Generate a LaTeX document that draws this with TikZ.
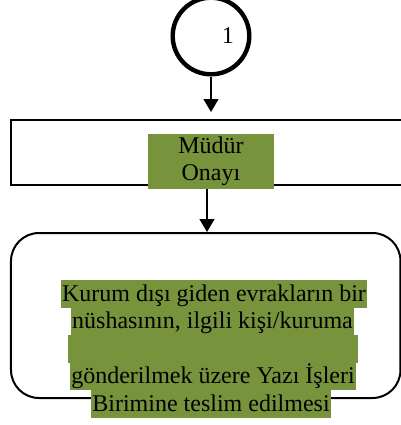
\documentclass[tikz,border=0pt]{standalone}
\usepackage{fontspec}
\setmainfont{Liberation Serif}
\usetikzlibrary{arrows.meta}

\definecolor{onaygreen}{RGB}{119,147,60}
\tikzset{
    hl/.style={fill=onaygreen, inner xsep=0.5pt, inner ysep=0pt, text height=10.5pt, text depth=3.25pt, anchor=north},
}

\begin{document}
\begin{tikzpicture}[x=0.5pt,y=-0.5pt,>={Triangle[width=7.5pt,length=6.5pt]},font=\fontsize{12}{13.75}\selectfont]
    \useasboundingbox (0,0) rectangle (401,425);

    \node[circle, draw, line width=2.2pt, minimum size=38.3pt, inner sep=0pt] (start) at (211,36) {};
    \node (num) at (228,36) {1};

    \node[draw, line width=1pt, minimum width=204.5pt, minimum height=32.5pt] (onaybox) at (215.5,152.5) {};
    \node[fill=onaygreen, text width=63pt, align=center, inner sep=0pt, minimum height=27.5pt] (onay) at (211,161.5) {Müdür\\Onayı};

    \node[draw, line width=1pt, rounded corners=14pt, minimum width=194.75pt, minimum height=82.5pt] (teslimbox) at (205.75,315.5) {};

    \node[hl] (line1) at (214,280) {Kurum dışı giden evrakların bir\ };
    \node[hl] (line2) at (212.5,307.5) {nüshasının, ilgili kişi/kuruma\ };
    \node[hl, minimum width=145pt] (line3) at (213,335) {};
    \node[hl] (line4) at (213,362.5) {gönderilmek üzere Yazı İşleri\ };
    \node[hl] (line5) at (211,390) {Birimine teslim edilmesi};

    \draw[->,line width=0.6pt] (start) -- ([yshift=3.5pt]start |- onaybox.north);
    \draw[->,line width=0.6pt] ([xshift=-2pt]onay.south) -- ([xshift=-2pt]onay.south |- teslimbox.north);
\end{tikzpicture}
\end{document}
